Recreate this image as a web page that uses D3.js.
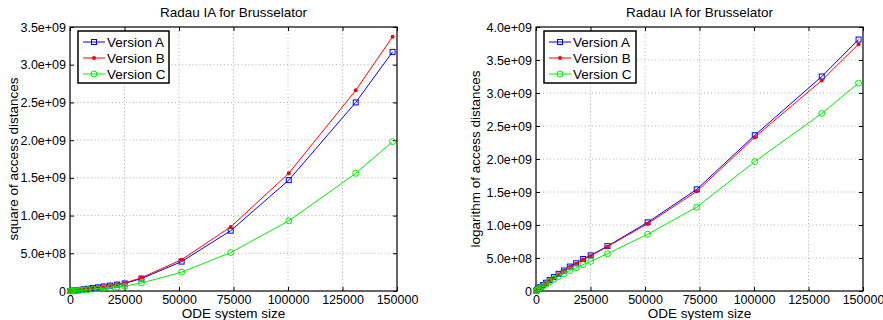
<!DOCTYPE html>
<html>
<head>
<meta charset="utf-8">
<script src="https://cdn.jsdelivr.net/npm/d3@7"></script>
<style>
  body { margin: 0; background: #fff; }
  svg { font-family: "Liberation Sans", Arial, Helvetica, sans-serif; }
  .grid line { stroke: #b0b0b0; stroke-dasharray: 1,2.5; stroke-width: 1; }
</style>
</head>
<body>
<svg id="chart" width="883" height="320"></svg>
<script>
// ODE system sizes (2*N^2 grid points)
const sizes = [128, 512, 1152, 2048, 3200, 4608, 6272, 8192, 10368, 12800, 15488, 18432, 21632, 25088, 32768, 51200, 73728, 100352, 131072, 147968];

// left panel: square of access distances
const sqA = [0.0002e9, 0.001e9, 0.003e9, 0.006e9, 0.010e9, 0.015e9, 0.022e9, 0.030e9, 0.039e9, 0.049e9, 0.060e9, 0.072e9, 0.085e9, 0.100e9, 0.165e9, 0.39e9, 0.80e9, 1.47e9, 2.50e9, 3.17e9];
const sqB = [0.0002e9, 0.001e9, 0.003e9, 0.006e9, 0.011e9, 0.016e9, 0.023e9, 0.032e9, 0.041e9, 0.052e9, 0.064e9, 0.077e9, 0.090e9, 0.106e9, 0.176e9, 0.415e9, 0.85e9, 1.56e9, 2.66e9, 3.37e9];
const sqC = [0.0001e9, 0.0006e9, 0.002e9, 0.004e9, 0.006e9, 0.009e9, 0.013e9, 0.018e9, 0.024e9, 0.030e9, 0.037e9, 0.045e9, 0.054e9, 0.065e9, 0.106e9, 0.25e9, 0.51e9, 0.93e9, 1.56e9, 1.98e9];

// right panel: logarithm of access distances
const lgA = [0.004e9, 0.016e9, 0.036e9, 0.060e9, 0.090e9, 0.125e9, 0.165e9, 0.210e9, 0.260e9, 0.310e9, 0.370e9, 0.420e9, 0.485e9, 0.540e9, 0.680e9, 1.04e9, 1.54e9, 2.36e9, 3.25e9, 3.81e9];
const lgB = [0.004e9, 0.015e9, 0.035e9, 0.058e9, 0.088e9, 0.122e9, 0.161e9, 0.205e9, 0.255e9, 0.305e9, 0.362e9, 0.412e9, 0.478e9, 0.532e9, 0.672e9, 1.02e9, 1.51e9, 2.33e9, 3.19e9, 3.74e9];
const lgC = [0.003e9, 0.013e9, 0.030e9, 0.050e9, 0.075e9, 0.105e9, 0.140e9, 0.180e9, 0.220e9, 0.260e9, 0.310e9, 0.350e9, 0.400e9, 0.450e9, 0.565e9, 0.86e9, 1.27e9, 1.96e9, 2.69e9, 3.15e9];

const versions = ['Version A', 'Version B', 'Version C'];
const colors = ['#0000ff', '#ff0000', '#00ee00'];
const xTicks = [0, 25000, 50000, 75000, 100000, 125000, 150000];
const yTicksLeft = [0, 5e8, 1e9, 1.5e9, 2e9, 2.5e9, 3e9, 3.5e9];
const yTicksRight = [0, 5e8, 1e9, 1.5e9, 2e9, 2.5e9, 3e9, 3.5e9, 4e9];

const svg = d3.select('#chart');

function yFmt(d) {
    if (d === 0) return '0';
    const e = Math.floor(Math.log10(d));
    return (d / Math.pow(10, e)).toFixed(1) + 'e+' + String(e).padStart(2, '0');
}

function drawPanel(opt) {
    const left = opt.left, top = 27, w = opt.width, h = 264;
    const g = svg.append('g').attr('transform', `translate(${left},${top})`);

    const x = d3.scaleLinear().domain([0, 150000]).range([0, w]);
    const y = d3.scaleLinear().domain([0, opt.yMax]).range([h, 0]);

    // grid
    const grid = g.append('g').attr('class', 'grid');
    grid.selectAll('.gx').data(xTicks.slice(1, -1)).enter().append('line')
        .attr('x1', d => x(d)).attr('x2', d => x(d)).attr('y1', 0).attr('y2', h);
    grid.selectAll('.gy').data(opt.yTicks.slice(1, -1)).enter().append('line')
        .attr('y1', d => y(d)).attr('y2', d => y(d)).attr('x1', 0).attr('x2', w);

    // axes (ticks inward, box)
    const xAxis = g.append('g').attr('transform', `translate(0,${h})`)
        .call(d3.axisBottom(x).tickValues(xTicks).tickSize(-4).tickPadding(4).tickFormat(d3.format('d')));
    const xTop = g.append('g')
        .call(d3.axisTop(x).tickValues(xTicks).tickSize(-4).tickFormat(''));
    const yAxis = g.append('g')
        .call(d3.axisLeft(y).tickValues(opt.yTicks).tickSize(-4).tickPadding(4).tickFormat(yFmt));
    const yRight = g.append('g').attr('transform', `translate(${w},0)`)
        .call(d3.axisRight(y).tickValues(opt.yTicks).tickSize(-4).tickFormat(''));
    [xAxis, xTop, yAxis, yRight].forEach(a => {
        a.select('.domain').remove();
        a.selectAll('line').attr('stroke', '#000');
        a.selectAll('text').attr('font-size', 12.5).attr('fill', '#000')
            .attr('font-family', '"Liberation Sans", Arial, sans-serif');
    });
    g.append('rect').attr('width', w).attr('height', h)
        .attr('fill', 'none').attr('stroke', '#000').attr('stroke-width', 1.2);

    // series
    const line = d3.line().x(d => x(d[0])).y(d => y(d[1]));
    opt.series.forEach((vals, i) => {
        const pts = sizes.map((s, j) => [s, vals[j]]);
        g.append('path').datum(pts).attr('d', line)
            .attr('fill', 'none').attr('stroke', colors[i]).attr('stroke-width', 1);
        const m = g.append('g');
        if (i === 0) {
            m.selectAll('rect').data(pts).enter().append('rect')
                .attr('x', d => x(d[0]) - 2.5).attr('y', d => y(d[1]) - 2.5)
                .attr('width', 5).attr('height', 5)
                .attr('fill', 'none').attr('stroke', colors[i]).attr('stroke-width', 1);
        } else if (i === 1) {
            m.selectAll('circle').data(pts).enter().append('circle')
                .attr('cx', d => x(d[0])).attr('cy', d => y(d[1])).attr('r', 2)
                .attr('fill', colors[i]);
        } else {
            m.selectAll('circle').data(pts).enter().append('circle')
                .attr('cx', d => x(d[0])).attr('cy', d => y(d[1])).attr('r', 3)
                .attr('fill', 'none').attr('stroke', colors[i]).attr('stroke-width', 1);
        }
    });

    // title and labels
    g.append('text').attr('x', w / 2).attr('y', -10).attr('text-anchor', 'middle')
        .attr('font-size', 13.5).text('Radau IA for Brusselator');
    g.append('text').attr('x', w / 2).attr('y', h + 26.5).attr('text-anchor', 'middle')
        .attr('font-size', 13.5).text('ODE system size');
    g.append('text').attr('transform', `translate(${opt.yLabelX - left},${h / 2}) rotate(-90)`)
        .attr('text-anchor', 'middle').attr('font-size', 13.5).text(opt.yLabel);

    // legend
    const lg = g.append('g').attr('transform', 'translate(8,4)');
    lg.append('rect').attr('width', opt.legendW).attr('height', 52)
        .attr('fill', '#fff').attr('stroke', '#000').attr('stroke-width', 1.5);
    versions.forEach((v, i) => {
        const cy = 11 + i * 16;
        lg.append('line').attr('x1', 5).attr('x2', 27).attr('y1', cy).attr('y2', cy)
            .attr('stroke', colors[i]).attr('stroke-width', 1);
        if (i === 0) {
            lg.append('rect').attr('x', 13.5).attr('y', cy - 2.5).attr('width', 5).attr('height', 5)
                .attr('fill', 'none').attr('stroke', colors[i]);
        } else if (i === 1) {
            lg.append('circle').attr('cx', 16).attr('cy', cy).attr('r', 2).attr('fill', colors[i]);
        } else {
            lg.append('circle').attr('cx', 16).attr('cy', cy).attr('r', 3)
                .attr('fill', 'none').attr('stroke', colors[i]);
        }
        lg.append('text').attr('x', 29).attr('y', cy + 5).attr('font-size', 13.5).text(v);
    });
}

drawPanel({ left: 70, width: 327, yMax: 3.5e9, yTicks: yTicksLeft,
    series: [sqA, sqB, sqC], yLabel: 'square of access distances', yLabelX: 18, legendW: 91 });
drawPanel({ left: 536, width: 327, yMax: 4e9, yTicks: yTicksRight,
    series: [lgA, lgB, lgC], yLabel: 'logarithm of access distances', yLabelX: 480, legendW: 92 });
</script>
</body>
</html>
